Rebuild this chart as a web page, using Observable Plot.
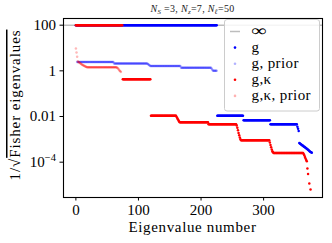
<!DOCTYPE html>
<html><head><meta charset="utf-8">
<script src="https://cdn.jsdelivr.net/npm/d3@7"></script>
<script src="https://cdn.jsdelivr.net/npm/@observablehq/plot@0.6"></script>
<style>body{margin:0;background:#fff}</style>
</head><body><div id="chart"></div>
<script>
// ---- data: runs of [firstIndex, lastIndex, value] ----
const gRuns = [
  [0,225,100],[226,267,1.07e-2],[268,310,6.9e-3],[311,353,4.6e-3],
  [354,354,3.6e-3],[355,355,2.9e-3],[356,356,2.3e-3]
];
const gTailStart = 357;
const gTail = [7.0e-4,6.6e-4,6.3e-4,6.0e-4,5.7e-4,5.4e-4,5.2e-4,4.9e-4,4.7e-4,4.5e-4,
  4.3e-4,4.1e-4,3.9e-4,3.7e-4,3.5e-4,3.3e-4,3.1e-4,2.95e-4,2.8e-4,2.7e-4,2.6e-4];

const gPriorRuns = [
  [2,60,2.47],[61,114,2.1],[115,115,2.0],[116,116,1.9],[117,117,1.8],[118,118,1.7],
  [119,167,1.65],[168,216,1.35],[217,217,1.25],[218,218,1.12],[219,225,1.0]
];

const gkRuns = [
  [0,74,100],[75,119,0.43],[120,160,1.07e-2],
  [161,161,9.5e-3],[162,162,8.5e-3],[163,163,7.5e-3],[164,164,6.7e-3],[165,165,6.0e-3],
  [166,211,5.6e-3],[212,256,4.6e-3],
  [257,257,4.0e-3],[258,258,3.2e-3],[259,259,2.5e-3],[260,260,1.9e-3],[261,261,1.5e-3],[262,262,1.2e-3],[263,263,1.0e-3],
  [264,309,9.1e-4],
  [310,310,7.2e-4],[311,311,5.7e-4],[312,312,4.5e-4],[313,313,3.6e-4],[314,314,3.0e-4],[315,315,2.7e-4],
  [316,363,2.55e-4],
  [364,364,2.3e-4],[365,365,2.0e-4],[366,366,1.7e-4],[367,367,1.45e-4],[368,368,1.25e-4],[369,369,1.1e-4],
  [370,370,5.3e-5],[371,371,3.0e-5],[373,373,1.16e-5],[375,375,6.3e-6]
];

const gkPriorRuns = [
  [0,0,9.5],[1,1,6.3],[2,2,4.1],[3,3,2.6],[4,4,2.45],[5,5,2.35],[6,6,2.25],[7,7,2.15],[8,8,2.05],
  [9,9,1.95],[10,10,1.87],[11,11,1.8],[12,12,1.73],[13,13,1.67],[14,14,1.61],[15,15,1.56],[16,16,1.52],[17,17,1.49],
  [18,65,1.45],[66,66,1.38],[67,67,1.3],[68,68,1.2],[69,69,1.1],[70,70,1.02],[71,71,0.95],[72,72,0.9]
];

const infValue = 100;
const xTicks = [0,100,200,300];
const yTicks = [100,1,0.01,1e-4];
const yTickLabels = ["100","1","0.01","10−4"];
const legendLabels = ["∞","g","g, prior","g,κ","g,κ, prior"];
const colBlue = "#0000ff", colRed = "#ff0000";

function expand(runs){
  const out=[];
  for(const [a,b,v] of runs) for(let i=a;i<=b;i++) out.push({i, v});
  return out;
}
const g = expand(gRuns).concat(gTail.map((v,k)=>({i:gTailStart+k, v})));
const gp = expand(gPriorRuns);
const gk = expand(gkRuns);
const gkp = expand(gkPriorRuns);

const FONT = "Liberation Serif";
const chart = Plot.plot({
  width:332, height:243,
  marginTop:18, marginBottom:46, marginLeft:63, marginRight:10,
  style:{fontFamily:FONT, fontSize:"15px", background:"white", color:"black", overflow:"visible"},
  x:{domain:[-19.8,394.1], ticks:xTicks, tickSize:3.5, tickPadding:3, label:null, tickFormat:d=>String(d)},
  y:{type:"log", domain:[2.84e-6,196], ticks:yTicks, tickSize:3.5, tickPadding:4, label:null,
     tickFormat:d=>yTickLabels[yTicks.indexOf(d)]},
  marks:[
    Plot.ruleY([infValue],{stroke:"#bdbdbd", strokeWidth:1.5}),
    Plot.dot(g,{x:"i",y:"v",r:1.25,fill:colBlue}),
    Plot.dot(gp,{x:"i",y:"v",r:1.25,fill:colBlue,fillOpacity:0.28}),
    Plot.dot(gk,{x:"i",y:"v",r:1.25,fill:colRed}),
    Plot.dot(gkp,{x:"i",y:"v",r:1.25,fill:colRed,fillOpacity:0.28}),
    Plot.frame({stroke:"black", strokeWidth:1.1})
  ]
});
document.getElementById("chart").appendChild(chart);
const svg = d3.select(chart);

// superscript tick label
svg.selectAll("text").filter(function(){return this.textContent==="10−4";}).each(function(){
  const t = d3.select(this); t.text("");
  t.append("tspan").text("10");
  t.append("tspan").attr("dy","-6").attr("font-size","10.5px").text("−4");
});

// title
const title = svg.append("text").attr("x",192.5).attr("y",11.5).attr("text-anchor","middle")
  .attr("font-family",FONT).attr("font-size","10px").attr("letter-spacing","0.3px").attr("fill","#222");
function sub(el, base, s){
  el.append("tspan").attr("font-style","italic").text(base);
  el.append("tspan").attr("font-style","italic").attr("font-size","7px").attr("dy","2").text(s);
}
sub(title,"N","S"); title.append("tspan").attr("dy","-2").text(" =3, ");
sub(title,"N","z"); title.append("tspan").attr("dy","-2").text("=7, ");
sub(title,"N","ℓ"); title.append("tspan").attr("dy","-2").text("=50");

// x label
svg.append("text").attr("x",192.5).attr("y",232).attr("text-anchor","middle")
  .attr("font-family",FONT).attr("font-size","15px").attr("letter-spacing","0.65px").text("Eigenvalue number");

// y label
const yl = svg.append("text").attr("transform","translate(20,105) rotate(-90)").attr("text-anchor","middle")
  .attr("font-family",FONT).attr("font-size","15px").attr("letter-spacing","0.9px");
yl.append("tspan").text("1/√");
yl.append("tspan").attr("text-decoration","overline").text("Fisher eigenvalues");

// legend
const lg = svg.append("g").attr("text-anchor","start");
lg.append("rect").attr("x",224.5).attr("y",19.5).attr("width",95).attr("height",91.5).attr("rx",2.5)
  .attr("fill","white").attr("fill-opacity",0.85).attr("stroke","#cccccc").attr("stroke-width",1);
const rowY = [31.5,47.6,63.7,79.8,95.9];
lg.append("line").attr("x1",230).attr("x2",240).attr("y1",rowY[0]).attr("y2",rowY[0]).attr("stroke","#bdbdbd").attr("stroke-width",1.5);
const hcol = [null,[colBlue,1],[colBlue,0.3],[colRed,1],[colRed,0.3]];
for(let k=1;k<5;k++) lg.append("circle").attr("cx",235).attr("cy",rowY[k]).attr("r",1.3).attr("fill",hcol[k][0]).attr("fill-opacity",hcol[k][1]);
legendLabels.forEach((s,k)=>{
  const t = lg.append("text").attr("x",251.5).attr("y",k===0 ? 35.5 : rowY[k]+4).attr("font-family",FONT).attr("text-anchor","start")
    .attr("font-size", k===0?"16px":"15px").attr("letter-spacing","0.4px").text(s);
  if(k===0) t.attr("textLength",16).attr("lengthAdjust","spacingAndGlyphs");
});
</script></body></html>
